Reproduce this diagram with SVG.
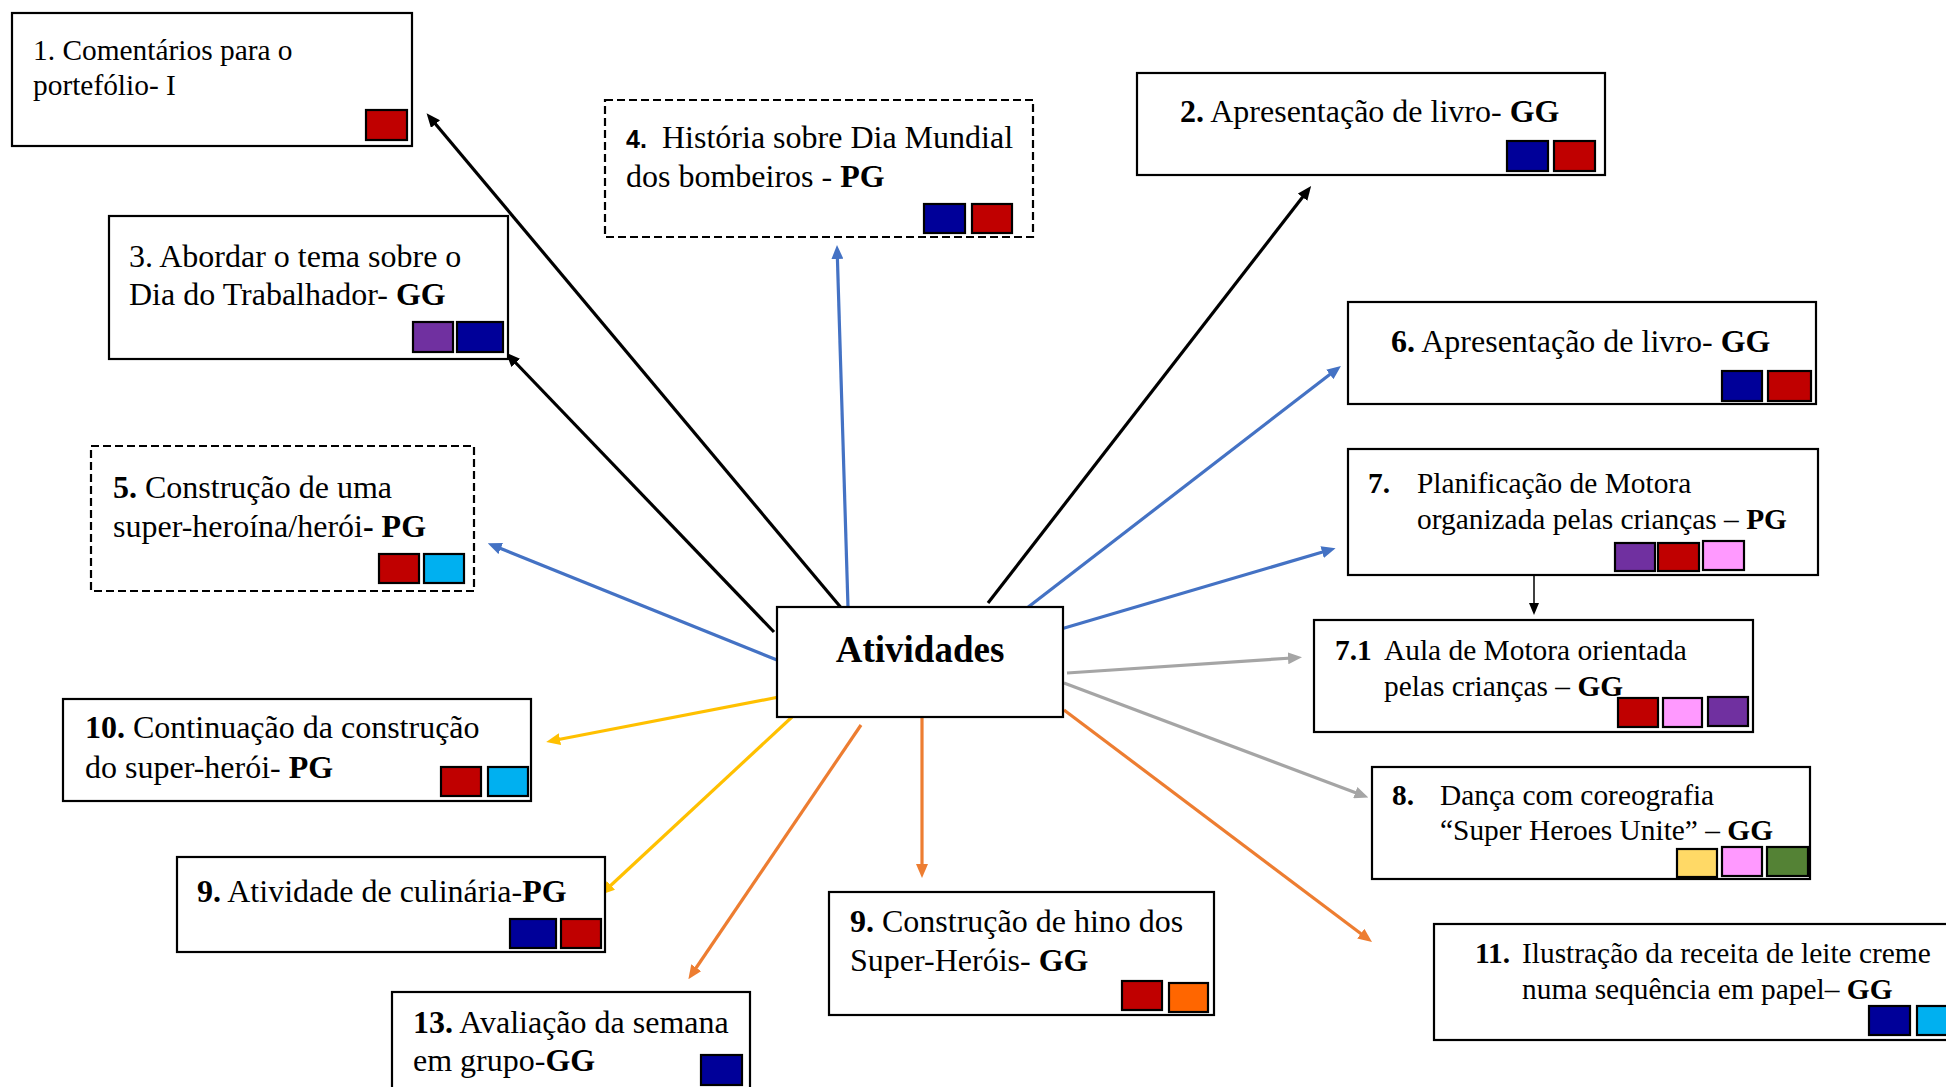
<svg xmlns="http://www.w3.org/2000/svg" width="1946" height="1087" viewBox="0 0 1946 1087">
<style>
text{font-family:"Liberation Serif","Times New Roman",serif;font-size:29.4px;fill:#000}
.L text{font-size:32px}
.b{font-weight:bold}
.sans{font-family:"Liberation Sans",Arial,sans-serif;font-size:25px;font-weight:bold}
.box{fill:#fff;stroke:#000;stroke-width:2.2}
.dash{fill:#fff;stroke:#000;stroke-width:2.2;stroke-dasharray:8 4}
.sq{stroke:#000;stroke-width:2.2}
.red{fill:#C00000}.navy{fill:#000099}.purple{fill:#7030A0}.lblue{fill:#00B0F0}.pink{fill:#FF99FF}.yellow{fill:#FFD966}.green{fill:#548235}.orange{fill:#FF6600}
.c{fill:none;stroke-width:3.2}
.k{stroke:#000}.bl{stroke:#4472C4}.gr{stroke:#A5A5A5}.or{stroke:#ED7D31}.ye{stroke:#FFC000}
</style>
<defs>
<marker id="mk" markerUnits="userSpaceOnUse" markerWidth="14" markerHeight="12" refX="4" refY="6" orient="auto"><path d="M0,0 L14,6 L0,12 z" fill="#000"/></marker>
<marker id="mb" markerUnits="userSpaceOnUse" markerWidth="14" markerHeight="12" refX="4" refY="6" orient="auto"><path d="M0,0 L14,6 L0,12 z" fill="#4472C4"/></marker>
<marker id="mg" markerUnits="userSpaceOnUse" markerWidth="14" markerHeight="12" refX="4" refY="6" orient="auto"><path d="M0,0 L14,6 L0,12 z" fill="#A5A5A5"/></marker>
<marker id="mo" markerUnits="userSpaceOnUse" markerWidth="14" markerHeight="12" refX="4" refY="6" orient="auto"><path d="M0,0 L14,6 L0,12 z" fill="#ED7D31"/></marker>
<marker id="my" markerUnits="userSpaceOnUse" markerWidth="14" markerHeight="12" refX="4" refY="6" orient="auto"><path d="M0,0 L14,6 L0,12 z" fill="#FFC000"/></marker>
<marker id="mt" markerUnits="userSpaceOnUse" markerWidth="12" markerHeight="10" refX="2" refY="5" orient="auto"><path d="M0,0 L12,5 L0,10 z" fill="#000"/></marker>
</defs>
<rect width="1946" height="1087" fill="#fff"/>

<g id="connectors">
<line class="c k" x1="843" y1="610" x2="433" y2="121" marker-end="url(#mk)"/>
<line class="c k" x1="774" y1="632" x2="513" y2="360" marker-end="url(#mk)"/>
<line class="c bl" x1="848" y1="607" x2="837.3" y2="255" marker-end="url(#mb)"/>
<line class="c k" x1="988" y1="603" x2="1305" y2="194" marker-end="url(#mk)"/>
<line class="c bl" x1="1027" y1="608" x2="1333" y2="372" marker-end="url(#mb)"/>
<line class="c bl" x1="1061" y1="629" x2="1326" y2="551" marker-end="url(#mb)"/>
<line class="c gr" x1="1067" y1="673" x2="1292" y2="658" marker-end="url(#mg)"/>
<line class="c gr" x1="1064" y1="683" x2="1359" y2="794" marker-end="url(#mg)"/>
<line class="c or" x1="1064" y1="710" x2="1364" y2="936" marker-end="url(#mo)"/>
<line class="c or" x1="922" y1="717" x2="922" y2="868" marker-end="url(#mo)"/>
<line class="c or" x1="861" y1="725" x2="694" y2="971" marker-end="url(#mo)"/>
<line class="c ye" x1="792" y1="717" x2="608" y2="888" marker-end="url(#my)"/>
<line class="c ye" x1="779" y1="697" x2="556" y2="740" marker-end="url(#my)"/>
<line class="c bl" x1="777" y1="660" x2="497" y2="547" marker-end="url(#mb)"/>
<line fill="none" stroke="#000" stroke-width="1.5" x1="1534" y1="575" x2="1534" y2="605" marker-end="url(#mt)"/>
</g>

<g id="node-center">
<rect class="box" x="777" y="607" width="286" height="110"/>
<text class="b" x="920" y="662" text-anchor="middle" style="font-size:37px">Atividades</text>
</g>

<g id="node-1">
<rect class="box" x="12" y="13" width="400" height="133"/>
<text x="33" y="60">1. Comentários para o</text>
<text x="33" y="95">portefólio- I</text>
<rect class="sq red" x="366" y="110" width="41" height="30"/>
</g>

<g id="node-3" class="L">
<rect class="box" x="109" y="216" width="399" height="143"/>
<text x="129" y="267">3. Abordar o tema sobre o</text>
<text x="129" y="305">Dia do Trabalhador- <tspan class="b">GG</tspan></text>
<rect class="sq purple" x="413" y="322" width="40" height="30"/>
<rect class="sq navy" x="457" y="322" width="46" height="30"/>
</g>

<g id="node-4" class="L">
<rect class="dash" x="605" y="100" width="428" height="137"/>
<text x="626" y="148"><tspan class="sans">4.</tspan><tspan x="662">História sobre Dia Mundial</tspan></text>
<text x="626" y="187">dos bombeiros - <tspan class="b">PG</tspan></text>
<rect class="sq navy" x="924" y="204" width="41" height="29"/>
<rect class="sq red" x="972" y="204" width="40" height="29"/>
</g>

<g id="node-2" class="L">
<rect class="box" x="1137" y="73" width="468" height="102"/>
<text x="1180" y="122"><tspan class="b">2.</tspan> Apresentação de livro- <tspan class="b">GG</tspan></text>
<rect class="sq navy" x="1507" y="141" width="41" height="30"/>
<rect class="sq red" x="1554" y="141" width="41" height="30"/>
</g>

<g id="node-6" class="L">
<rect class="box" x="1348" y="302" width="468" height="102"/>
<text x="1391" y="352"><tspan class="b">6.</tspan> Apresentação de livro- <tspan class="b">GG</tspan></text>
<rect class="sq navy" x="1722" y="371" width="40" height="30"/>
<rect class="sq red" x="1768" y="371" width="43" height="30"/>
</g>

<g id="node-7">
<rect class="box" x="1348" y="449" width="470" height="126"/>
<text x="1368" y="493" class="b">7.</text>
<text x="1417" y="493">Planificação de Motora</text>
<text x="1417" y="529">organizada pelas crianças – <tspan class="b">PG</tspan></text>
<rect class="sq purple" x="1615" y="543" width="40" height="28"/>
<rect class="sq red" x="1658" y="543" width="41" height="28"/>
<rect class="sq pink" x="1703" y="541" width="41" height="29"/>
</g>

<g id="node-7-1">
<rect class="box" x="1314" y="620" width="439" height="112"/>
<text x="1335" y="660"><tspan class="b">7.1</tspan><tspan x="1384">Aula de Motora orientada</tspan></text>
<text x="1384" y="696">pelas crianças – <tspan class="b">GG</tspan></text>
<rect class="sq red" x="1618" y="698" width="40" height="29"/>
<rect class="sq pink" x="1663" y="698" width="39" height="29"/>
<rect class="sq purple" x="1708" y="697" width="40" height="29"/>
</g>

<g id="node-8">
<rect class="box" x="1372" y="767" width="438" height="112"/>
<text x="1392" y="805" class="b">8.</text>
<text x="1440" y="805">Dança com coreografia</text>
<text x="1440" y="840">“Super Heroes Unite” – <tspan class="b">GG</tspan></text>
<rect class="sq yellow" x="1677" y="849" width="40" height="28"/>
<rect class="sq pink" x="1722" y="847" width="40" height="29"/>
<rect class="sq green" x="1767" y="847" width="41" height="29"/>
</g>

<g id="node-11">
<rect class="box" x="1434" y="924" width="530" height="116"/>
<text x="1475" y="963" class="b">11.</text>
<text x="1522" y="963">Ilustração da receita de leite creme</text>
<text x="1522" y="999">numa sequência em papel– <tspan class="b">GG</tspan></text>
<rect class="sq navy" x="1869" y="1006" width="41" height="29"/>
<rect class="sq lblue" x="1917" y="1006" width="41" height="29"/>
</g>

<g id="node-9b" class="L">
<rect class="box" x="829" y="892" width="385" height="123"/>
<text x="850" y="932"><tspan class="b">9.</tspan> Construção de hino dos</text>
<text x="850" y="971">Super-Heróis- <tspan class="b">GG</tspan></text>
<rect class="sq red" x="1122" y="981" width="40" height="29"/>
<rect class="sq orange" x="1169" y="983" width="39" height="29"/>
</g>

<g id="node-13" class="L">
<rect class="box" x="392" y="992" width="358" height="110"/>
<text x="413" y="1033"><tspan class="b">13.</tspan> Avaliação da semana</text>
<text x="413" y="1071">em grupo-<tspan class="b">GG</tspan></text>
<rect class="sq navy" x="701" y="1055" width="41" height="30"/>
</g>

<g id="node-9a" class="L">
<rect class="box" x="177" y="857" width="428" height="95"/>
<text x="197" y="902"><tspan class="b">9.</tspan> Atividade de culinária-<tspan class="b">PG</tspan></text>
<rect class="sq navy" x="510" y="919" width="46" height="29"/>
<rect class="sq red" x="561" y="919" width="40" height="29"/>
</g>

<g id="node-10" class="L">
<rect class="box" x="63" y="699" width="468" height="102"/>
<text x="85" y="738"><tspan class="b">10.</tspan> Continuação da construção</text>
<text x="85" y="778">do super-herói- <tspan class="b">PG</tspan></text>
<rect class="sq red" x="441" y="767" width="40" height="29"/>
<rect class="sq lblue" x="488" y="767" width="40" height="29"/>
</g>

<g id="node-5" class="L">
<rect class="dash" x="91" y="446" width="383" height="145"/>
<text x="113" y="498"><tspan class="b">5.</tspan> Construção de uma</text>
<text x="113" y="537">super-heroína/herói<tspan class="b">- PG</tspan></text>
<rect class="sq red" x="379" y="554" width="40" height="29"/>
<rect class="sq lblue" x="424" y="554" width="40" height="29"/>
</g>
</svg>
